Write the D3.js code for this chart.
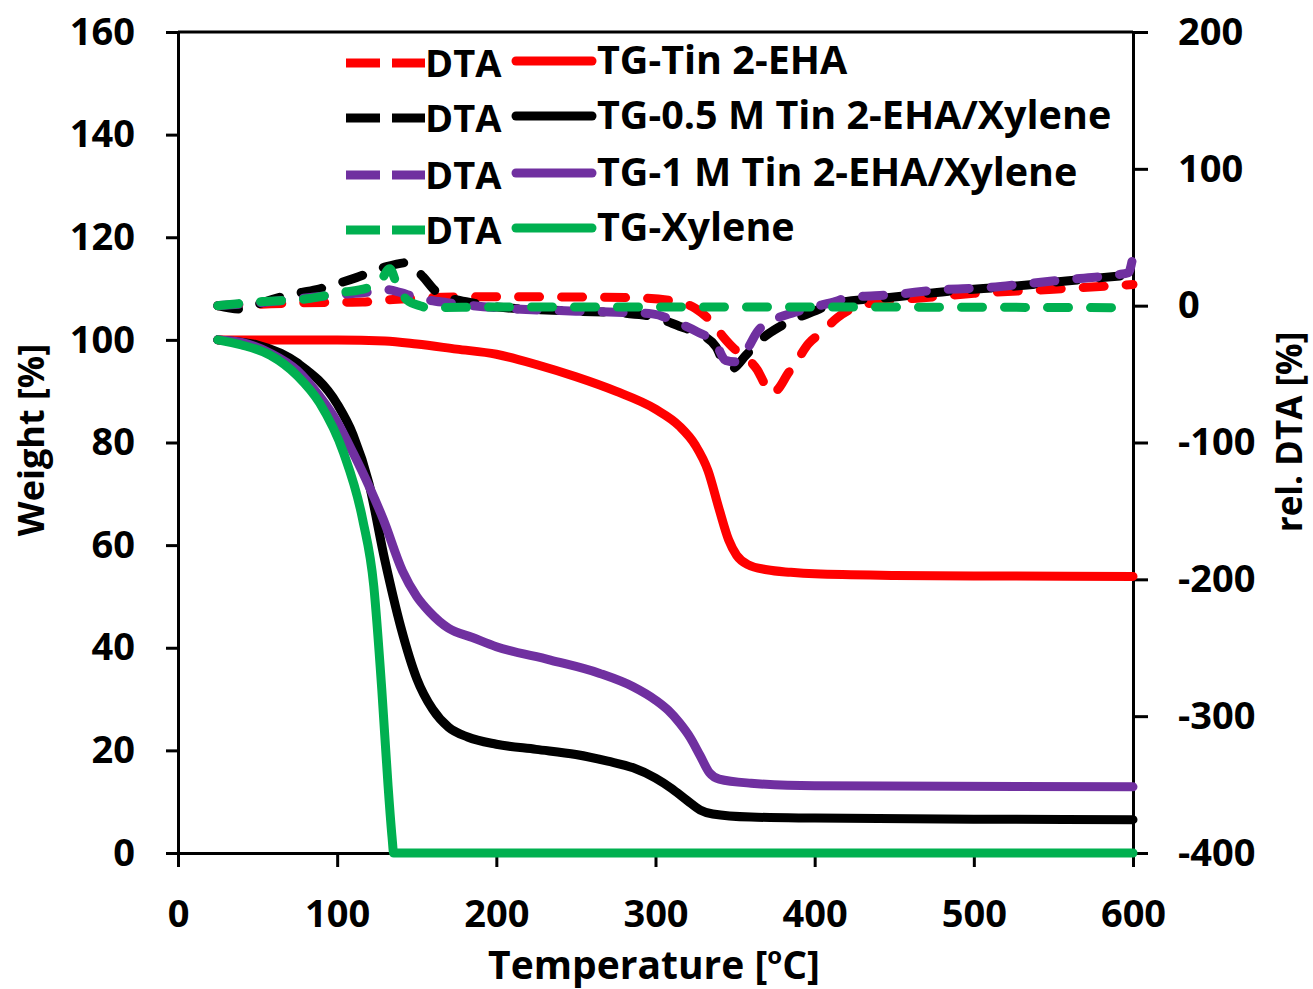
<!DOCTYPE html>
<html>
<head>
<meta charset="utf-8">
<script src="https://cdn.jsdelivr.net/npm/d3@7"></script>
<style>
  body { margin: 0; background: #fff; }
  text { font-family: "Open Sans", Lato, sans-serif; font-weight: bold; fill: #000; }
</style>
</head>
<body>
<div id="chart"></div>
<script>
// TG curves: [temperature, weight %]
const tgTin = [[25,100],[60,100],[100,100],[130,99.8],[150,99.2],[175,98.2],[200,97.2],[225,95.2],[250,92.8],[275,90],[300,86.5],[315,83.2],[325,79.5],[333,74.5],[340,67],[346,61],[351,58],[358,56.2],[370,55.2],[385,54.7],[400,54.4],[450,54.1],[500,54],[600,53.9]];
const tg05 = [[25,100],[50,99],[75,95.5],[100,87.5],[110,81.5],[120,72],[130,57],[140,44],[150,34],[160,28],[170,24.5],[182,22.6],[200,21.2],[225,20.2],[250,19.2],[270,17.9],[286,16.6],[300,14.6],[310,12.6],[320,10.2],[328,8.4],[336,7.6],[360,7],[400,6.8],[500,6.6],[600,6.5]];
const tg1 = [[25,100],[40,99.5],[58,97.4],[75,94],[89,89],[100,84],[110,78],[120,71.5],[129,65],[141,55],[150,50],[158,47],[170,43.8],[185,42],[200,40.2],[234,37.6],[265,35],[286,32.4],[300,29.8],[308,27.8],[315,25.4],[322,22.4],[328,19],[334,15.6],[340,14.4],[360,13.6],[400,13.1],[600,12.9]];
const tgXylene = [[25,100],[40,99],[58,97],[75,93],[89,87.7],[104,78],[116,65],[123,52],[128,32],[132,13],[134.5,3],[135.5,0],[200,0],[600,0]];

// DTA curves: [temperature, rel. DTA %]
const dtaTin = [[25,0],[50,1],[75,2],[100,2.5],[116,2.7],[135,4.5],[150,5.5],[175,6.3],[200,6.5],[250,6.3],[286,5.8],[313,3],[325,-2],[336,-13],[342,-22],[350,-32],[358,-39],[364,-47],[369,-58],[373,-64],[377,-61],[383,-50],[389,-40],[396,-28],[405,-19],[414,-9],[422,-3],[432,1],[445,3.5],[470,6],[500,9],[550,12],[600,15.5]];
const dta05 = [[25,0],[39,-2.5],[55,3],[70,8],[87,11.7],[102,16.8],[112,20.5],[129,27.8],[144,31.4],[154,21],[162,10.5],[170,6],[185,2],[200,-1],[250,-4],[280,-5.5],[298,-8],[315,-15],[326,-20],[338,-30],[343,-42],[348,-46],[357,-36],[364,-27],[375,-17.5],[387,-10],[399,-4.4],[412,1.5],[447,6],[480,10],[506,12.5],[537,15.5],[558,18],[590,21.5],[600,22.5]];
const dta1 = [[25,0],[50,2],[75,5],[100,8],[120,10],[131,11.7],[140,9.5],[148,6.6],[156,4.4],[169,2.2],[200,-1.5],[250,-4],[280,-5],[298,-6],[315,-13],[326,-19],[338,-28],[344,-40],[350,-41],[357,-33],[364,-19],[375,-10],[387,-5],[399,-1],[410,2],[422,6],[449,8],[479,11.7],[506,13],[537,16.5],[558,19],[590,22.6],[597,24],[600,36]];
const dtaXylene = [[25,0],[53,3],[81,5],[102,9.5],[119,13],[127,17.5],[133,27],[138,14],[144,4],[152,0],[157,-1.5],[200,-1],[300,-1],[400,-1],[600,-1.5]];

const seriesColors = ["#ff0000", "#000000", "#7030a0", "#00b050"];
const tgSeries = [tgTin, tg05, tg1, tgXylene];
const dtaSeries = [dtaTin, dta05, dta1, dtaXylene];
const legendLabels = ["TG-Tin 2-EHA", "TG-0.5 M Tin 2-EHA/Xylene", "TG-1 M Tin 2-EHA/Xylene", "TG-Xylene"];

const xTicks = [0, 100, 200, 300, 400, 500, 600];
const yTicks = [0, 20, 40, 60, 80, 100, 120, 140, 160];
const y2Ticks = [-400, -300, -200, -100, 0, 100, 200];

const width = 1313, height = 989;
const plot = { left: 178, right: 1133, top: 32, bottom: 853 };

const svg = d3.select("#chart")
  .append("svg")
  .attr("width", width)
  .attr("height", height);

// scales
const x = d3.scaleLinear().domain([0, 600]).range([plot.left, plot.right]);
const y = d3.scaleLinear().domain([0, 160]).range([plot.bottom, plot.top]);
const y2 = d3.scaleLinear().domain([-400, 200]).range([plot.bottom, plot.top]);

// axes
function styleAxis(g) {
  g.select(".domain").attr("stroke", "#000").attr("stroke-width", 3);
  g.selectAll(".tick line").attr("stroke", "#000").attr("stroke-width", 3);
  g.selectAll(".tick text")
    .style("font-size", "38px")
    .style("font-family", "'Open Sans', sans-serif")
    .style("font-weight", "bold");
}

const plain = (d) => String(d); // plain hyphen for negatives, as in the original

// top border of plot area
svg.append("line")
  .attr("x1", plot.left).attr("x2", plot.right)
  .attr("y1", plot.top).attr("y2", plot.top)
  .attr("stroke", "#000")
  .attr("stroke-width", 3);

svg.append("g")
  .attr("transform", "translate(" + plot.left + ",0)")
  .call(d3.axisLeft(y).tickValues(yTicks).tickFormat(plain).tickSize(12).tickSizeOuter(0).tickPadding(31))
  .call(styleAxis);

svg.append("g")
  .attr("transform", "translate(" + plot.right + ",0)")
  .call(d3.axisRight(y2).tickValues(y2Ticks).tickFormat(plain).tickSize(15).tickSizeOuter(0).tickPadding(30))
  .call(styleAxis);

svg.append("g")
  .attr("transform", "translate(0," + plot.bottom + ")")
  .call(d3.axisBottom(x).tickValues(xTicks).tickFormat(plain).tickSize(14).tickSizeOuter(0).tickPadding(33))
  .call(styleAxis);

// TG lines
const tgLine = d3.line()
  .x((d) => x(d[0]))
  .y((d) => y(d[1]))
  .curve(d3.curveMonotoneX);

svg.selectAll(".tg")
  .data(tgSeries)
  .enter()
  .append("path")
  .attr("class", "tg")
  .attr("d", tgLine)
  .attr("fill", "none")
  .attr("stroke", (d, i) => seriesColors[i])
  .attr("stroke-width", 9)
  .attr("stroke-linejoin", "round")
  .attr("stroke-linecap", "round");

// DTA lines (right axis)
const dtaLine = d3.line()
  .x((d) => x(d[0]))
  .y((d) => y2(d[1]))
  .curve(d3.curveMonotoneX);

svg.selectAll(".dta")
  .data(dtaSeries)
  .enter()
  .append("path")
  .attr("class", "dta")
  .attr("d", dtaLine)
  .attr("fill", "none")
  .attr("stroke", (d, i) => seriesColors[i])
  .attr("stroke-width", 9)
  .attr("stroke-dasharray", "21,22")
  .attr("stroke-linejoin", "round")
  .attr("stroke-linecap", "round");

// legend
const legendRows = [63, 118, 175, 230];
const legend = svg.selectAll(".legend")
  .data(legendLabels)
  .enter()
  .append("g")
  .attr("class", "legend")
  .attr("transform", (d, i) => "translate(0," + legendRows[i] + ")");

legend.append("line")
  .attr("x1", 346).attr("x2", 425)
  .attr("stroke", (d, i) => seriesColors[i])
  .attr("stroke-width", 9)
  .attr("stroke-dasharray", "34,12");

legend.append("text")
  .attr("x", 425)
  .attr("y", 14)
  .style("font-size", "38px")
  .text("DTA");

legend.append("line")
  .attr("x1", 516).attr("x2", 592)
  .attr("y1", -2).attr("y2", -2)
  .attr("stroke", (d, i) => seriesColors[i])
  .attr("stroke-width", 9)
  .attr("stroke-linecap", "round");

legend.append("text")
  .attr("x", 597)
  .attr("y", 11)
  .style("font-size", "39.5px")
  .text((d) => d);

// axis titles
svg.append("text")
  .attr("transform", "rotate(-90)")
  .attr("x", -440)
  .attr("y", 44)
  .attr("text-anchor", "middle")
  .style("font-size", "36px")
  .text("Weight [%]");

svg.append("text")
  .attr("transform", "rotate(-90)")
  .attr("x", -432)
  .attr("y", 1302)
  .attr("text-anchor", "middle")
  .style("font-size", "35px")
  .text("rel. DTA [%]");

const xTitle = svg.append("text")
  .attr("x", 654)
  .attr("y", 979)
  .attr("text-anchor", "middle")
  .style("font-size", "39px");
xTitle.append("tspan").text("Temperature [");
xTitle.append("tspan").attr("dy", -15).style("font-size", "24px").text("o");
xTitle.append("tspan").attr("dy", 15).text("C]");
</script>
</body>
</html>
